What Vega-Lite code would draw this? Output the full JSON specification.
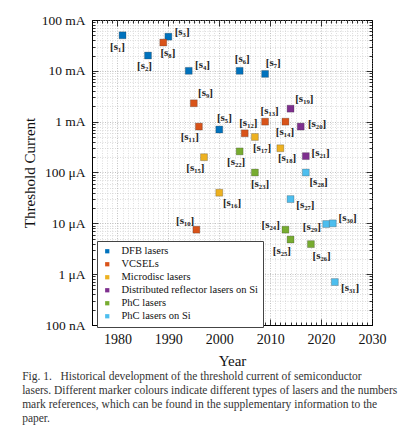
{
  "$schema": "https://vega.github.io/schema/vega-lite/v6.json",
  "width": 280,
  "height": 305,
  "autosize": "none",
  "padding": {"left": 92, "top": 20, "right": 39, "bottom": 103},
  "background": "white",
  "config": {
    "font": "Liberation Serif",
    "view": {"stroke": "#000", "strokeWidth": 1},
    "axis": {"domainColor": "#000", "tickColor": "#000", "labelColor": "#111", "titleColor": "#111", "labelFont": "Liberation Serif", "titleFont": "Liberation Serif", "titleFontWeight": "normal"},
    "legend": {"labelFont": "Liberation Serif"}
  },
  "title": {
    "text": [
      "Fig. 1.\u00a0\u00a0\u00a0Historical development of the threshold current of semiconductor",
      "lasers. Different marker colours indicate different types of lasers and the numbers",
      "mark references, which can be found in the supplementary information to the",
      "paper."
    ],
    "orient": "bottom",
    "anchor": "start",
    "frame": "bounds",
    "font": "Liberation Serif",
    "fontSize": 11.5,
    "fontWeight": "normal",
    "color": "#333",
    "lineHeight": 14,
    "offset": 3
  },
  "datasets": {
    "points": [
      {"ref": 1, "year": 1981, "current": 0.05, "type": "DFB lasers"},
      {"ref": 2, "year": 1986, "current": 0.02, "type": "DFB lasers"},
      {"ref": 3, "year": 1990, "current": 0.047, "type": "DFB lasers"},
      {"ref": 4, "year": 1994, "current": 0.01, "type": "DFB lasers"},
      {"ref": 5, "year": 2000, "current": 0.0007, "type": "DFB lasers"},
      {"ref": 6, "year": 2004, "current": 0.01, "type": "DFB lasers"},
      {"ref": 7, "year": 2009, "current": 0.0087, "type": "DFB lasers"},
      {"ref": 8, "year": 1989, "current": 0.036, "type": "VCSELs"},
      {"ref": 9, "year": 1995, "current": 0.0023, "type": "VCSELs"},
      {"ref": 10, "year": 1995.5, "current": 0.0000075, "type": "VCSELs"},
      {"ref": 11, "year": 1996, "current": 0.0008, "type": "VCSELs"},
      {"ref": 12, "year": 2005, "current": 0.00059, "type": "VCSELs"},
      {"ref": 13, "year": 2009, "current": 0.001, "type": "VCSELs"},
      {"ref": 14, "year": 2013, "current": 0.001, "type": "VCSELs"},
      {"ref": 15, "year": 1997, "current": 0.0002, "type": "Microdisc lasers"},
      {"ref": 16, "year": 2000, "current": 0.00004, "type": "Microdisc lasers"},
      {"ref": 17, "year": 2007, "current": 0.0005, "type": "Microdisc lasers"},
      {"ref": 18, "year": 2012, "current": 0.0003, "type": "Microdisc lasers"},
      {"ref": 19, "year": 2014, "current": 0.0018, "type": "Distributed reflector lasers on Si"},
      {"ref": 20, "year": 2016, "current": 0.0008, "type": "Distributed reflector lasers on Si"},
      {"ref": 21, "year": 2017, "current": 0.00021, "type": "Distributed reflector lasers on Si"},
      {"ref": 22, "year": 2004, "current": 0.00026, "type": "PhC lasers"},
      {"ref": 23, "year": 2007, "current": 0.0001, "type": "PhC lasers"},
      {"ref": 24, "year": 2013, "current": 0.0000075, "type": "PhC lasers"},
      {"ref": 25, "year": 2014, "current": 0.0000048, "type": "PhC lasers"},
      {"ref": 26, "year": 2018, "current": 0.0000039, "type": "PhC lasers"},
      {"ref": 27, "year": 2014, "current": 0.00003, "type": "PhC lasers on Si"},
      {"ref": 28, "year": 2017, "current": 0.0001, "type": "PhC lasers on Si"},
      {"ref": 29, "year": 2021, "current": 0.0000097, "type": "PhC lasers on Si"},
      {"ref": 30, "year": 2022.3, "current": 0.00001, "type": "PhC lasers on Si"},
      {"ref": 31, "year": 2022.7, "current": 0.0000007, "type": "PhC lasers on Si"}
    ],
    "labels": [
      {"label": "[s₁]", "year": 1980.0, "current": 0.0298},
      {"label": "[s₂]", "year": 1985.3, "current": 0.01245},
      {"label": "[s₃]", "year": 1992.7, "current": 0.0573},
      {"label": "[s₄]", "year": 1996.7, "current": 0.01303},
      {"label": "[s₅]", "year": 2001.0, "current": 0.001165},
      {"label": "[s₆]", "year": 2004.5, "current": 0.01687},
      {"label": "[s₇]", "year": 2010.6, "current": 0.01406},
      {"label": "[s₈]", "year": 1989.9, "current": 0.0227},
      {"label": "[s₉]", "year": 1997.3, "current": 0.00361},
      {"label": "[s₁₀]", "year": 1993.3, "current": 0.0000113},
      {"label": "[s₁₁]", "year": 1994.2, "current": 0.000506},
      {"label": "[s₁₂]", "year": 2005.7, "current": 0.000929},
      {"label": "[s₁₃]", "year": 2009.9, "current": 0.00164},
      {"label": "[s₁₄]", "year": 2012.9, "current": 0.000634},
      {"label": "[s₁₅]", "year": 1995.3, "current": 0.000121},
      {"label": "[s₁₆]", "year": 2002.5, "current": 0.0000255},
      {"label": "[s₁₇]", "year": 2008.4, "current": 0.000299},
      {"label": "[s₁₈]", "year": 2013.3, "current": 0.00019},
      {"label": "[s₁₉]", "year": 2016.7, "current": 0.00275},
      {"label": "[s₂₀]", "year": 2019.2, "current": 0.000887},
      {"label": "[s₂₁]", "year": 2019.9, "current": 0.000245},
      {"label": "[s₂₂]", "year": 2003.3, "current": 0.000163},
      {"label": "[s₂₃]", "year": 2008.0, "current": 0.0000594},
      {"label": "[s₂₄]", "year": 2010.1, "current": 0.00000927},
      {"label": "[s₂₅]", "year": 2012.3, "current": 0.00000289},
      {"label": "[s₂₆]", "year": 2020.1, "current": 0.00000231},
      {"label": "[s₂₇]", "year": 2016.9, "current": 0.0000229},
      {"label": "[s₂₈]", "year": 2019.5, "current": 0.0000641},
      {"label": "[s₂₉]", "year": 2018.2, "current": 0.00000835},
      {"label": "[s₃₀]", "year": 2025.2, "current": 0.0000126},
      {"label": "[s₃₁]", "year": 2025.7, "current": 0.000000527}
    ]
  },
  "resolve": {"axis": {"x": "independent", "y": "independent"}},
  "layer": [
    {
      "data": {"name": "points"},
      "mark": {"type": "point", "shape": "square", "filled": true, "size": 48, "opacity": 1, "stroke": "#333", "strokeOpacity": 0.45, "strokeWidth": 0.6},
      "encoding": {
        "x": {
          "field": "year", "type": "quantitative",
          "scale": {"domain": [1975, 2030], "nice": false, "zero": false},
          "axis": {
            "orient": "bottom",
            "title": "Year", "titleFontSize": 15, "titlePadding": 4,
            "values": [1975,1976,1977,1978,1979,1980,1981,1982,1983,1984,1985,1986,1987,1988,1989,1990,1991,1992,1993,1994,1995,1996,1997,1998,1999,2000,2001,2002,2003,2004,2005,2006,2007,2008,2009,2010,2011,2012,2013,2014,2015,2016,2017,2018,2019,2020,2021,2022,2023,2024,2025,2026,2027,2028,2029,2030],
            "format": "d",
            "labelExpr": "datum.value % 10 === 0 ? datum.label : ''",
            "labelFontSize": 14, "labelPadding": 13, "labelOverlap": false, "labelFlush": false,
            "tickSize": {"condition": {"test": "datum.value % 10 === 0", "value": -6}, "value": -3},
            "tickWidth": 0.8,
            "grid": true,
            "gridColor": {"condition": {"test": "datum.value % 10 === 0", "value": "#999"}, "value": "#c8c8c8"},
            "gridDash": [1, 1.5], "gridWidth": 0.6
          }
        },
        "y": {
          "field": "current", "type": "quantitative",
          "scale": {"type": "log", "domain": [0.0000001, 0.1], "nice": false},
          "axis": {
            "orient": "left",
            "title": "Threshold Current", "titleFontSize": 15, "titlePadding": 4,
            "values": [1e-7,2e-7,3e-7,4e-7,5e-7,6e-7,7e-7,8e-7,9e-7,1e-6,2e-6,3e-6,4e-6,5e-6,6e-6,7e-6,8e-6,9e-6,1e-5,2e-5,3e-5,4e-5,5e-5,6e-5,7e-5,8e-5,9e-5,1e-4,2e-4,3e-4,4e-4,5e-4,6e-4,7e-4,8e-4,9e-4,1e-3,2e-3,3e-3,4e-3,5e-3,6e-3,7e-3,8e-3,9e-3,1e-2,2e-2,3e-2,4e-2,5e-2,6e-2,7e-2,8e-2,9e-2,1e-1],
            "labelExpr": "abs(log(datum.value)/LN10 - round(log(datum.value)/LN10)) < 0.001 ? (datum.value >= 0.00099 ? format(datum.value*1000, '.0f') + ' mA' : datum.value >= 0.00000099 ? format(datum.value*1000000, '.0f') + ' μA' : format(datum.value*1000000000, '.0f') + ' nA') : ''",
            "labelFontSize": 13.5, "labelPadding": 13, "labelOverlap": false, "labelFlush": false,
            "tickSize": {"condition": {"test": "abs(log(datum.value)/LN10 - round(log(datum.value)/LN10)) < 0.001", "value": -6}, "value": -3},
            "tickWidth": 0.8,
            "grid": true,
            "gridColor": {"condition": {"test": "abs(log(datum.value)/LN10 - round(log(datum.value)/LN10)) < 0.001", "value": "#999"}, "value": "#c8c8c8"},
            "gridDash": [1, 1.5], "gridWidth": 0.6
          }
        },
        "color": {
          "field": "type", "type": "nominal",
          "scale": {
            "domain": ["DFB lasers", "VCSELs", "Microdisc lasers", "Distributed reflector lasers on Si", "PhC lasers", "PhC lasers on Si"],
            "range": ["#0072BD", "#D95319", "#EDB120", "#7E2F8E", "#77AC30", "#4DBEEE"]
          },
          "legend": {
            "title": null,
            "orient": "none", "legendX": 5, "legendY": 221,
            "direction": "vertical",
            "symbolType": "square", "symbolSize": 18, "symbolStrokeWidth": 0, "symbolOpacity": 1,
            "labelFont": "Liberation Serif", "labelFontSize": 10.5, "labelColor": "#111", "labelLimit": 300, "labelOffset": 9,
            "rowPadding": 2, "padding": 5,
            "strokeColor": "#444", "fillColor": "white"
          }
        }
      }
    },
    {
      "data": {"name": "labels"},
      "mark": {"type": "text", "font": "Liberation Serif", "fontSize": 11, "fontWeight": "bold", "color": "#222", "align": "center", "baseline": "middle"},
      "encoding": {
        "x": {
          "field": "year", "type": "quantitative",
          "scale": {"domain": [1975, 2030], "nice": false, "zero": false},
          "axis": {
            "orient": "top", "title": null, "labels": false, "grid": false, "domain": false,
            "values": [1975,1976,1977,1978,1979,1980,1981,1982,1983,1984,1985,1986,1987,1988,1989,1990,1991,1992,1993,1994,1995,1996,1997,1998,1999,2000,2001,2002,2003,2004,2005,2006,2007,2008,2009,2010,2011,2012,2013,2014,2015,2016,2017,2018,2019,2020,2021,2022,2023,2024,2025,2026,2027,2028,2029,2030],
            "tickSize": {"condition": {"test": "datum.value % 10 === 0", "value": -6}, "value": -3},
            "tickWidth": 0.8
          }
        },
        "y": {
          "field": "current", "type": "quantitative",
          "scale": {"type": "log", "domain": [0.0000001, 0.1], "nice": false},
          "axis": {
            "orient": "right", "title": null, "labels": false, "grid": false, "domain": false,
            "values": [1e-7,2e-7,3e-7,4e-7,5e-7,6e-7,7e-7,8e-7,9e-7,1e-6,2e-6,3e-6,4e-6,5e-6,6e-6,7e-6,8e-6,9e-6,1e-5,2e-5,3e-5,4e-5,5e-5,6e-5,7e-5,8e-5,9e-5,1e-4,2e-4,3e-4,4e-4,5e-4,6e-4,7e-4,8e-4,9e-4,1e-3,2e-3,3e-3,4e-3,5e-3,6e-3,7e-3,8e-3,9e-3,1e-2,2e-2,3e-2,4e-2,5e-2,6e-2,7e-2,8e-2,9e-2,1e-1],
            "tickSize": {"condition": {"test": "abs(log(datum.value)/LN10 - round(log(datum.value)/LN10)) < 0.001", "value": -6}, "value": -3},
            "tickWidth": 0.8
          }
        },
        "text": {"field": "label", "type": "nominal"}
      }
    }
  ]
}
